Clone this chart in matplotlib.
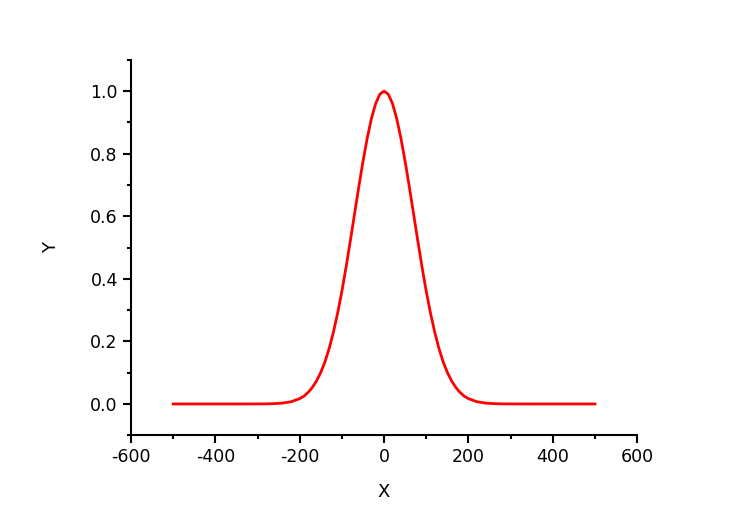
import matplotlib
matplotlib.use('Agg')
import matplotlib.pyplot as plt
from matplotlib.ticker import MultipleLocator

plt.rcParams['axes.unicode_minus'] = False

# values (symmetric peak at x=0)
x_right = [0, 10, 20, 30, 40, 50, 60, 70, 80, 90, 100, 110, 120, 130, 140, 150, 160,
           170, 180, 190, 200, 220, 240, 260, 280, 300, 350, 400, 500]
y_right = [1.0, 0.990, 0.960, 0.912, 0.849, 0.775, 0.693, 0.607, 0.521, 0.438, 0.360,
           0.291, 0.230, 0.178, 0.135, 0.101, 0.074, 0.053, 0.037, 0.025, 0.017,
           0.0072, 0.0028, 0.0010, 0.0003, 0.0001, 0.0, 0.0, 0.0]

x = [-v for v in x_right[::-1]] + x_right[1:]
y = y_right[::-1] + y_right[1:]

fig = plt.figure(figsize=(7.4, 5.2), dpi=100)
ax = fig.add_axes([0.177, 0.163, 0.684, 0.722])
ax.plot(x, y, color='red', lw=2)

ax.set_xlim(-600, 600)
ax.set_ylim(-0.1, 1.1)
ax.xaxis.set_major_locator(MultipleLocator(200))
ax.xaxis.set_minor_locator(MultipleLocator(100))
ax.set_yticks([0.0, 0.2, 0.4, 0.6, 0.8, 1.0])
ax.set_yticklabels(['0.0', '0.2', '0.4', '0.6', '0.8', '1.0'])
ax.yaxis.set_minor_locator(MultipleLocator(0.1))
ax.spines['top'].set_visible(False)
ax.spines['right'].set_visible(False)
ax.spines['left'].set_linewidth(1.5)
ax.spines['bottom'].set_linewidth(1.5)
ax.tick_params(which='major', length=6, width=1.5, labelsize=12.5)
ax.tick_params(which='minor', length=3, width=1.5)
ax.set_xlabel('X', fontsize=13, labelpad=12)
ax.set_ylabel('Y', fontsize=13, labelpad=22)

fig.savefig('out.png', dpi=100)
